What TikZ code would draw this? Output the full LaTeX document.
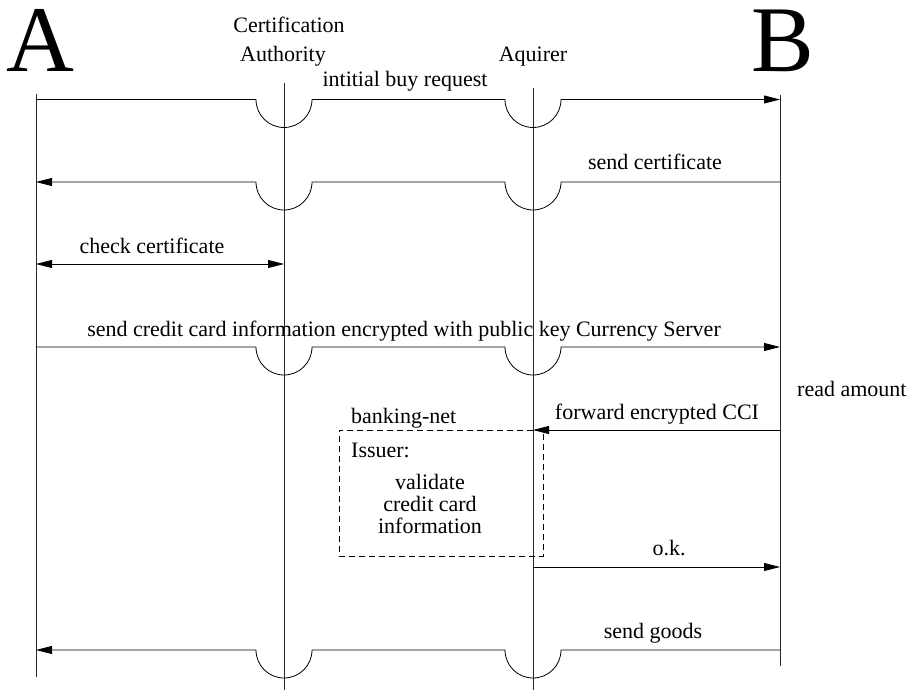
\documentclass[tikz,border=0pt]{standalone}
\usepackage{fontspec}
\setmainfont{Liberation Serif}
\usetikzlibrary{arrows.meta,calc}
\begin{document}
\begin{tikzpicture}[x=1pt,y=-1pt,
  lifeline/.style={line width=0.7pt,draw=black!85},
  msg/.style={line width=0.8pt},
  tip/.style={-{Triangle[length=16pt,width=8pt]}},
  tips/.style={{Triangle[length=16pt,width=8pt]}-{Triangle[length=16pt,width=8pt]}},
  lbl/.style={font=\fontsize{22}{22}\selectfont,inner sep=0pt,anchor=base},
  big/.style={font=\fontsize{94}{94}\selectfont,inner sep=0pt,anchor=base},
  dashbox/.style={draw,dash pattern=on 6pt off 4pt,line width=0.7pt,inner sep=0pt}]
\useasboundingbox (0,0) rectangle (908,690);
% lifelines
\coordinate (Atop) at (36,94);   \coordinate (Abot) at (36,677);
\coordinate (CAtop) at (284,83); \coordinate (CAbot) at (284,690);
\coordinate (AQtop) at (533,88); \coordinate (AQbot) at (533,690);
\coordinate (Btop) at (780,95);  \coordinate (Bbot) at (780,666);
\draw[lifeline] (Atop) -- (Abot);
\draw[lifeline] (CAtop) -- (CAbot);
\draw[lifeline] (AQtop) -- (AQbot);
\draw[lifeline] (Btop) -- (Bbot);
% headers
\node[big] (A) at (40,72) {A};
\node[big] (B) at (783,72) {B};
\node[lbl] (ca1) at (289,33) {Certification};
\node[lbl] (ca2) at (283,62) {Authority};
\node[lbl] (aq) at (533,62) {Aquirer};
% rows
\coordinate (r1) at (0,99.5);
\coordinate (r2) at (0,182);
\coordinate (r3) at (0,264);
\coordinate (r4) at (0,347);
\coordinate (r5) at (0,430);
\coordinate (r6) at (0,567);
\coordinate (r7) at (0,650);
% 1
\draw[msg,tip] (Atop |- r1) -- ($(CAtop |- r1)+(-28,0)$) arc[start angle=180,end angle=360,radius=28pt]
  -- ($(AQtop |- r1)+(-28,0)$) arc[start angle=180,end angle=360,radius=28pt] -- (Btop |- r1);
\node[lbl] (l1) at (405,87) {intitial buy request};
% 2
\draw[msg,tip] (Btop |- r2) -- ($(AQtop |- r2)+(28,0)$) arc[start angle=0,end angle=-180,radius=28pt]
  -- ($(CAtop |- r2)+(28,0)$) arc[start angle=0,end angle=-180,radius=28pt] -- (Atop |- r2);
\node[lbl] (l2) at (655,170) {send certificate};
% 3
\draw[msg,tips] (Atop |- r3) -- (CAtop |- r3);
\node[lbl] (l3) at (152,253) {check certificate};
% 4
\draw[msg,tip] (Atop |- r4) -- ($(CAtop |- r4)+(-28,0)$) arc[start angle=180,end angle=360,radius=28pt]
  -- ($(AQtop |- r4)+(-28,0)$) arc[start angle=180,end angle=360,radius=28pt] -- (Btop |- r4);
\node[lbl] (l4) at (404,336) {send credit card information encrypted with public key Currency Server};
\node[lbl,anchor=base west] (ra) at (797,396) {read amount};
% 5
\draw[msg,tip] (Btop |- r5) -- (AQtop |- r5);
\node[lbl] (l5) at (657,419) {forward encrypted CCI};
% banking net
\node[dashbox,minimum width=204pt,minimum height=126pt] (bank) at (441,493) {};
\node[lbl,anchor=base west] (bn) at (351,423) {banking-net};
\node[lbl,anchor=base west] (iss) at (351,457) {Issuer:};
\node[lbl,anchor=north,align=center] (val) at (430,474) {validate\\credit card\\information};
% 6
\draw[msg,tip] (AQtop |- r6) -- (Btop |- r6);
\node[lbl] (l6) at (669,555) {o.k.};
% 7
\draw[msg,tip] (Btop |- r7) -- ($(AQtop |- r7)+(28,0)$) arc[start angle=0,end angle=-180,radius=28pt]
  -- ($(CAtop |- r7)+(28,0)$) arc[start angle=0,end angle=-180,radius=28pt] -- (Atop |- r7);
\node[lbl] (l7) at (653,638) {send goods};
\end{tikzpicture}
\end{document}
